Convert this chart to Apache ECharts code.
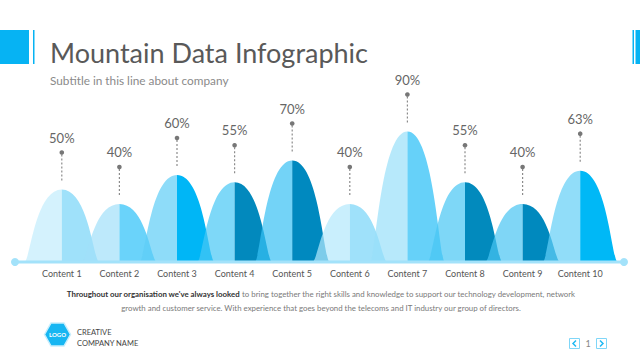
<!DOCTYPE html>
<html>
<head>
<meta charset="utf-8">
<script src="https://cdn.jsdelivr.net/npm/echarts@6/dist/echarts.min.js"></script>
<style>
html,body{margin:0;padding:0;background:#fff;}
#chart{width:640px;height:360px;}
</style>
</head>
<body>
<div id="chart"></div>
<script>
// ---- data ----
const categories = ['Content 1','Content 2','Content 3','Content 4','Content 5','Content 6','Content 7','Content 8','Content 9','Content 10'];
const values = [50, 40, 60, 55, 70, 40, 90, 55, 40, 63];
const titleText = 'Mountain Data Infographic';
const subtitleText = 'Subtitle in this line about company';
const paraBold = "Throughout our organisation we've always looked";
const paraRest1 = 'to bring together the right skills and knowledge to support our technology development, network';
const paraLine2 = 'growth and customer service. With experience that goes beyond the telecoms and IT industry our group of directors.';

// ---- styles ----
const leftColors = ['rgba(194,236,252,0.7)','rgba(161,224,249,0.7)','rgba(94,205,246,0.7)','rgba(71,199,245,0.7)','rgba(55,192,244,0.7)',
                    'rgba(178,232,252,0.7)','rgba(152,224,249,0.7)','rgba(71,198,243,0.7)','rgba(72,196,242,0.7)','rgba(99,206,246,0.7)'];
const rightColors = ['#9fe1fa','#6ad3fa','#00b6f6','#0289bd','#0089bf','#9fe1fa','#66d1f9','#028abd','#0089be','#00b8f6'];
const FONT = 'Lato, "Open Sans", sans-serif';

const chart = echarts.init(document.getElementById('chart'), null, {renderer: 'svg'});

function renderMountain(params, api) {
  const i = params.dataIndex;
  const v = api.value(1);
  const top = api.coord([api.value(0), v]);
  const base = api.coord([api.value(0), 0]);
  const cx = top[0], yp = top[1], y0 = base[1];
  const w = api.size([1, 0])[0] * 0.65;
  const leftPath = 'M' + (cx - w) + ',' + y0 +
    ' C' + (cx - 0.85 * w) + ',' + y0 + ' ' + (cx - 0.72 * w) + ',' + yp + ' ' + cx + ',' + yp +
    ' L' + cx + ',' + y0 + ' Z';
  const rightPath = 'M' + cx + ',' + y0 + ' L' + cx + ',' + yp +
    ' C' + (cx + 0.72 * w) + ',' + yp + ' ' + (cx + 0.85 * w) + ',' + y0 + ' ' + (cx + w) + ',' + y0 + ' Z';
  return {
    type: 'group',
    children: [
      {type: 'path', shape: {pathData: leftPath}, style: {fill: leftColors[i]}},
      {type: 'path', shape: {pathData: rightPath}, style: {fill: rightColors[i]}},
      {type: 'line', shape: {x1: cx, y1: yp - 35, x2: cx, y2: yp - 8},
        style: {stroke: '#8c8c8c', lineWidth: 1.2, lineDash: [2, 2]}},
      {type: 'circle', shape: {cx: cx, cy: yp - 37, r: 2.3}, style: {fill: '#777'}},
      {type: 'text', style: {x: cx, y: yp - 52, text: v + '%', align: 'center', verticalAlign: 'middle',
        font: '13px ' + FONT, fill: '#666'}}
    ]
  };
}

const option = {
  animation: false,
  backgroundColor: '#fff',
  grid: {left: 33, right: 31, top: 117, bottom: 98},
  xAxis: {
    type: 'category',
    data: categories,
    axisLine: {show: false},
    axisTick: {show: false},
    axisLabel: {interval: 0, fontSize: 9, color: '#555', margin: 7, fontFamily: FONT}
  },
  yAxis: {type: 'value', min: 0, max: 100, show: false, splitLine: {show: false}},
  series: [{
    type: 'custom',
    renderItem: renderMountain,
    encode: {x: 0, y: 1},
    data: values.map((v, i) => [i, v]),
    clip: false
  }],
  graphic: [
    {type: 'rect', shape: {x: 0, y: 30, width: 29, height: 34}, style: {fill: '#06b3f3'}, z: 100},
    {type: 'rect', shape: {x: 33, y: 30, width: 1.5, height: 34}, style: {fill: '#06b3f3'}, z: 100},
    {type: 'rect', shape: {x: 632.5, y: 30, width: 1.5, height: 34}, style: {fill: '#06b3f3'}, z: 100},
    {type: 'rect', shape: {x: 635.5, y: 30, width: 5, height: 34}, style: {fill: '#06b3f3'}, z: 100},
    {type: 'text', x: 50, y: 52, style: {text: titleText, font: '27px ' + FONT, fill: '#595959', verticalAlign: 'middle'}, z: 100},
    {type: 'text', x: 50, y: 80, style: {text: subtitleText, font: '11.8px ' + FONT, fill: '#8a8a8a', verticalAlign: 'middle'}, z: 100},
    // baseline
    {type: 'line', shape: {x1: 15, y1: 262, x2: 624, y2: 262}, style: {stroke: '#a3e2fa', lineWidth: 3}, z: 100},
    {type: 'circle', shape: {cx: 15, cy: 262, r: 4}, style: {fill: '#a3e2fa'}, z: 100},
    {type: 'circle', shape: {cx: 624, cy: 262, r: 4}, style: {fill: '#a3e2fa'}, z: 100},
    // paragraph
    {type: 'text', x: 321, y: 294, z: 100, style: {
      text: '{b|' + paraBold + '} {n|' + paraRest1 + '}', align: 'center', verticalAlign: 'middle',
      font: '7.85px ' + FONT,
      rich: {b: {fontWeight: 'bold', fill: '#333', fontSize: 7.85, fontFamily: 'Lato'}, n: {fill: '#7a7a7a', fontSize: 7.85, fontFamily: 'Lato'}}
    }},
    {type: 'text', x: 321, y: 308, z: 100, style: {text: paraLine2, align: 'center', verticalAlign: 'middle',
      font: '7.85px ' + FONT, fill: '#7a7a7a'}},
    // logo
    {type: 'polygon', shape: {points: [[44.5,334.5],[51,323],[64,323],[70.5,334.5],[64,346],[51,346]]},
      style: {fill: '#17b6f2', stroke: '#c9eefc', lineWidth: 1.5}, z: 100},
    {type: 'text', x: 57.5, y: 334.5, z: 101, style: {text: 'LOGO', align: 'center', verticalAlign: 'middle',
      font: 'bold 6px ' + FONT, fill: '#fff'}},
    {type: 'text', x: 77, y: 332, z: 100, style: {text: 'CREATIVE', verticalAlign: 'middle', font: '7.5px ' + FONT, fill: '#444'}},
    {type: 'text', x: 77, y: 343, z: 100, style: {text: 'COMPANY NAME', verticalAlign: 'middle', font: '7.5px ' + FONT, fill: '#444'}},
    // pager
    {type: 'rect', shape: {x: 569.5, y: 338.5, width: 10, height: 10}, style: {fill: 'none', stroke: '#7fd6f8', lineWidth: 1}, z: 100},
    {type: 'polyline', shape: {points: [[576,340.5],[573,343.5],[576,346.5]]}, style: {fill: 'none', stroke: '#1fb9f3', lineWidth: 1.5}, z: 100},
    {type: 'text', x: 588, y: 343.5, z: 100, style: {text: '1', align: 'center', verticalAlign: 'middle', font: '9px ' + FONT, fill: '#888'}},
    {type: 'rect', shape: {x: 596.5, y: 338.5, width: 10, height: 10}, style: {fill: 'none', stroke: '#7fd6f8', lineWidth: 1}, z: 100},
    {type: 'polyline', shape: {points: [[600,340.5],[603,343.5],[600,346.5]]}, style: {fill: 'none', stroke: '#1fb9f3', lineWidth: 1.5}, z: 100}
  ]
};
chart.setOption(option);
</script>
</body>
</html>
